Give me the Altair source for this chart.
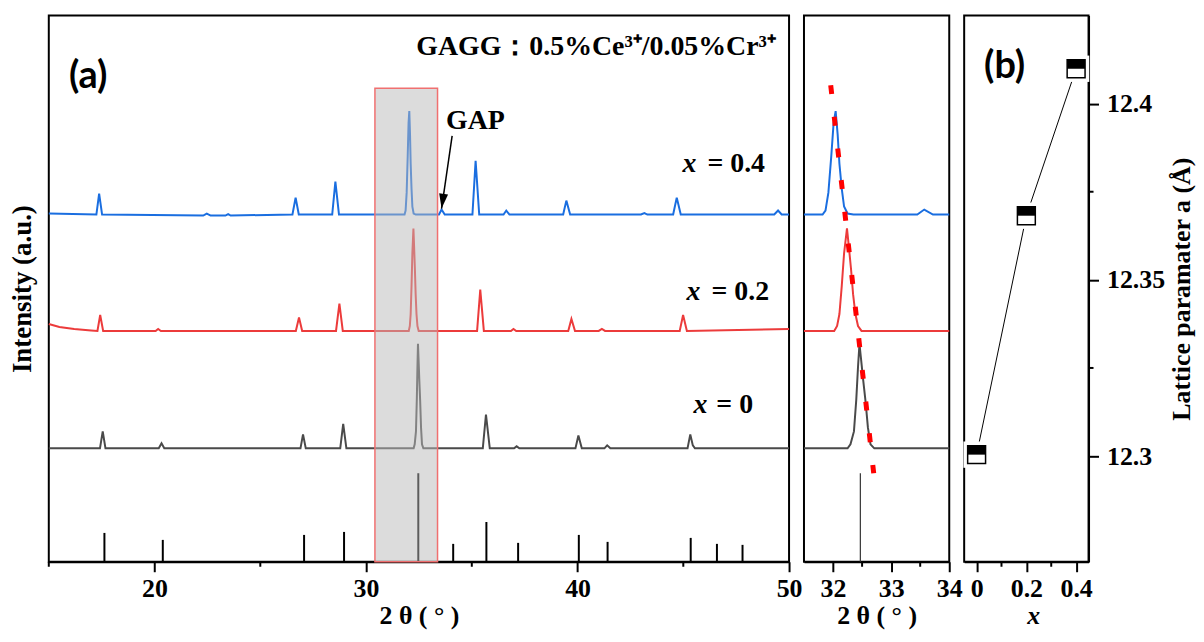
import altair as alt
import pandas as pd

# ---------------- data ----------------
series_names = ["x = 0", "x = 0.2", "x = 0.4"]
series_colors = ["#4a4a4a", "#ec3b3b", "#1a6ee0"]

# x = 0.4 pattern (2theta, intensity a.u.)
tt_x04 = [15.0, 17.25, 17.38, 17.52, 22.3, 22.47, 22.65, 23.35, 23.48, 23.6,
          26.52, 26.67, 26.82, 28.4, 28.55, 28.72,
          31.82, 31.87, 31.92, 31.97, 32.01, 32.045, 32.08, 32.11, 32.15, 32.19, 32.25, 32.35,
          33.45, 33.57, 33.72, 35.03, 35.18, 35.35, 36.5, 36.63, 36.78,
          39.32, 39.47, 39.65, 43.0, 43.16, 43.3, 44.52, 44.69, 44.88,
          49.3, 49.48, 49.65, 50.0]
in_x04 = [350, 349, 370, 349, 348, 350, 348, 348, 349.5, 348,
          349, 366, 349, 349, 382, 349,
          349, 353, 371, 408, 441, 453, 429, 400, 375, 357, 350, 349,
          349, 354, 349, 349, 403, 349, 349, 353, 349,
          349, 363, 349, 349, 350.5, 349, 349, 366, 349,
          349, 353, 349, 349]

# x = 0.2 pattern
tt_x02 = [15.0, 15.5, 16.2, 17.0, 17.3, 17.43, 17.57, 20.05, 20.17, 20.3,
          26.68, 26.83, 26.98, 28.58, 28.74, 28.9,
          32.02, 32.07, 32.11, 32.15, 32.19, 32.24, 32.27, 32.31, 32.345, 32.385, 32.43, 32.49,
          35.25, 35.40, 35.57, 36.85, 36.97, 37.1, 39.56, 39.71, 39.88,
          41.0, 41.15, 41.3, 44.83, 44.99, 45.17, 50.0]
in_x02 = [239, 236, 234, 232.5, 232, 248, 232, 232, 234, 232,
          232, 245.5, 232, 232, 259.5, 232,
          232, 237, 249, 277, 310, 335, 318, 294, 269, 249, 237, 232,
          232, 273.5, 232, 232, 234, 232, 232, 244, 232,
          232, 234, 232, 232, 248, 232, 234]

# x = 0 pattern
tt_x00 = [15.0, 17.42, 17.55, 17.68, 20.2, 20.33, 20.46, 26.9, 27.02, 27.15,
          28.78, 28.92, 29.07,
          32.25, 32.30, 32.36, 32.40, 32.43, 32.455, 32.48, 32.52, 32.56, 32.60, 32.645, 32.71,
          35.52, 35.67, 35.85, 37.0, 37.12, 37.25, 39.9, 40.04, 40.2,
          41.27, 41.40, 41.55, 45.2, 45.33, 45.45, 45.55, 50.0]
in_x00 = [114, 114, 131, 114, 114, 119, 114, 114, 128, 114,
          114, 138.6, 114,
          114, 118, 131, 163, 196, 219, 205, 182, 161, 135, 118, 114,
          114, 148, 114, 114, 116, 114, 114, 127, 114,
          114, 117, 114, 114, 128, 117, 114, 114]

# standard reference pattern (stick positions / heights)
ref_2theta = [17.63, 20.39, 27.07, 28.96, 32.47, 34.12, 35.69, 37.19, 40.06, 41.42, 45.35, 46.59, 47.80]
ref_height = [29, 22, 27, 30, 89, 18, 40, 19, 27, 20, 24, 18, 17]

# highlighted region
box_2theta = [30.42, 33.38]
box_top = [476]

# red guide across the main peak
guide_2theta = [31.96, 32.70]
guide_int = [479, 89]

# lattice parameter panel
x_content = [0, 0.2, 0.4]
lattice_a = [12.3004, 12.3682, 12.4099]

# ticks
xa_major = [20, 30, 40, 50]
xa_minor = [15, 25, 35, 45]
xz_major = [32, 33, 34]
xz_minor = [32.5, 33.5]
xb_major = [0, 0.2, 0.4]
xb_minor = [0.1, 0.3]
yb_major = [12.3, 12.35, 12.4]
yb_minor = [12.325, 12.375]

# series labels
label_x_pos = [44.96, 45.15, 45.48]
label_eq_pos = [46.14, 46.33, 46.56]
label_int = [391.6, 263.3, 150]
label_eq_text = ["= 0.4", "= 0.2", "= 0"]

# ---------------- build tables ----------------
rows = []
for name, tt, ii in [("x = 0", tt_x00, in_x00), ("x = 0.2", tt_x02, in_x02), ("x = 0.4", tt_x04, in_x04)]:
    for k, (a, b) in enumerate(zip(tt, ii)):
        rows.append({"s": name, "t": a, "i": b, "k": k})
curves = pd.DataFrame(rows)
sticks = pd.DataFrame({"t": ref_2theta, "i": [0] * len(ref_2theta), "i2": ref_height})

SERIF = "Liberation Serif"
FS = 26
W_A, W_Z, W_B, H = 744, 146, 125, 549

axis_common = dict(
    labelFont=SERIF, labelFontSize=FS, labelFontWeight="bold", labelColor="black",
    titleFont=SERIF, titleFontSize=26, titleFontWeight="bold", titleColor="black",
    domainColor="black", domainWidth=2, tickColor="black", tickWidth=2, tickSize=10,
    grid=False, labelFlush=False, labelPadding=4, titlePadding=1,
)

color_enc = alt.Color("s:N", scale=alt.Scale(domain=series_names, range=series_colors), legend=None)

# ---------- panel (a) ----------
xA = alt.X("t:Q", scale=alt.Scale(domain=[15, 50], nice=False, zero=False),
           axis=alt.Axis(values=xa_major, format="d", title="2 θ ( ° )", **axis_common))
yA = alt.Y("i:Q", scale=alt.Scale(domain=[0, H], nice=False, zero=False),
           axis=alt.Axis(title="Intensity (a.u.)", labels=False, ticks=False, domain=False,
                         grid=False, titleFont=SERIF, titleFontSize=27, titleFontWeight="bold",
                         titleColor="black", titlePadding=12))

a_lines = alt.Chart(curves).mark_line(strokeWidth=2).encode(x=xA, y=yA, color=color_enc, order="k:Q", detail="s:N")
a_sticks = alt.Chart(sticks).mark_rule(color="black", strokeWidth=2).encode(x=xA, y=yA, y2="i2:Q")
box = pd.DataFrame({"t": [box_2theta[0]], "t2": [box_2theta[1]], "i": [0], "i2": box_top})
a_box = alt.Chart(box).mark_rect(fill="#b9b9b9", fillOpacity=0.5, stroke="#f07070", strokeWidth=1.5).encode(
    x=xA, x2="t2:Q", y=yA, y2="i2:Q")
a_minor = alt.Chart(pd.DataFrame({"t": xa_minor})).mark_rule(color="black", strokeWidth=2).encode(
    x=xA, y=alt.value(H), y2=alt.value(H + 5))

a_gap = alt.Chart(pd.DataFrame({"t": [35.17], "i": [435], "label": ["GAP"]})).mark_text(
    font=SERIF, fontSize=28, fontWeight="bold", align="center", baseline="alphabetic", color="black").encode(
    x=xA, y=yA, text="label:N")
a_title = alt.Chart(pd.DataFrame({"t": [49.38], "i": [509], "label": ["GAGG：0.5%Ce³⁺/0.05%Cr³⁺"]})).mark_text(
    font=SERIF, fontSize=28, fontWeight="bold", align="right", baseline="alphabetic", color="black").encode(
    x=xA, y=yA, text="label:N")
a_eq = alt.Chart(pd.DataFrame({"t": label_eq_pos, "i": label_int, "label": label_eq_text})).mark_text(
    font=SERIF, fontSize=28, fontWeight="bold", align="left", baseline="alphabetic", color="black").encode(
    x=xA, y=yA, text="label:N")
a_xs = alt.Chart(pd.DataFrame({"t": label_x_pos, "i": label_int, "label": ["x", "x", "x"]})).mark_text(
    font=SERIF, fontSize=28, fontWeight="bold", fontStyle="italic", align="left",
    baseline="alphabetic", color="black").encode(x=xA, y=yA, text="label:N")
a_panel_lbl = alt.Chart(pd.DataFrame({"t": [15.95], "i": [476], "label": ["(a)"]})).mark_text(
    font="Lato", fontSize=38, fontWeight="bold", align="left", baseline="alphabetic", color="black").encode(
    x=xA, y=yA, text="label:N")
arrow = pd.DataFrame({"t": [34.07], "i": [428], "t2": [33.57], "i2": [355]})
a_arrow = alt.Chart(arrow).mark_rule(color="black", strokeWidth=1.5).encode(x=xA, y=yA, x2="t2:Q", y2="i2:Q")
a_head = alt.Chart(pd.DataFrame({"t": [33.57], "i": [355]})).mark_point(
    shape="M0,0L-0.3,-1L0.3,-1Z", size=900, filled=True, color="black", opacity=1, angle=8).encode(x=xA, y=yA)

panel_a = alt.layer(a_sticks, a_lines, a_box, a_minor, a_arrow, a_head,
                    a_gap, a_title, a_eq, a_xs, a_panel_lbl).properties(width=W_A, height=H)

# ---------- zoom panel ----------
curves_z = curves.rename(columns={"t": "tz", "i": "iz"})
xZ = alt.X("tz:Q", scale=alt.Scale(domain=[31.5, 34], nice=False, zero=False),
           axis=alt.Axis(values=xz_major, format="d", title="2 θ ( ° )", **axis_common))
yZ = alt.Y("iz:Q", scale=alt.Scale(domain=[0, H], nice=False, zero=False), axis=None)
z_lines = alt.Chart(curves_z).mark_line(strokeWidth=2, clip=True).encode(x=xZ, y=yZ, color=color_enc, order="k:Q", detail="s:N")
stick_main = pd.DataFrame({"tz": [ref_2theta[4]], "iz": [0], "iz2": [ref_height[4]]})
z_stick = alt.Chart(stick_main).mark_rule(color="#333333", strokeWidth=1.2).encode(x=xZ, y=yZ, y2="iz2:Q")
guide = pd.DataFrame({"tz": guide_2theta, "iz": guide_int})
z_guide = alt.Chart(guide).mark_line(color="#ff0000", strokeWidth=5, strokeDash=[9, 23]).encode(x=xZ, y=yZ)
z_minor = alt.Chart(pd.DataFrame({"tz": xz_minor})).mark_rule(color="black", strokeWidth=2).encode(
    x=xZ, y=alt.value(H), y2=alt.value(H + 5))
panel_z = alt.layer(z_lines, z_stick, z_guide, z_minor).properties(width=W_Z, height=H)

# ---------- panel (b) ----------
lat = pd.DataFrame({"xb": x_content, "ab": lattice_a})
xB = alt.X("xb:Q", scale=alt.Scale(domain=[-0.05, 0.45], nice=False, zero=False),
           axis=alt.Axis(values=xb_major, format="~g", title="x", titleFontStyle="italic",
                         titleX=W_B / 2 + 7, **axis_common))
yB = alt.Y("ab:Q", scale=alt.Scale(domain=[12.27, 12.425], nice=False, zero=False),
           axis=alt.Axis(values=yb_major, format="~g", orient="right", title="Lattice paramater a (Å)",
                         titleAngle=270, titleBaseline="top",
                         **{**axis_common, "labelFontSize": 26, "titleFontSize": 26,
                            "labelPadding": 8, "titlePadding": 4}))
b_line = alt.Chart(lat).mark_line(color="black", strokeWidth=1).encode(x=xB, y=yB)
b_mask = alt.Chart(lat).mark_square(size=700, color="white", opacity=1).encode(x=xB, y=yB)
b_sq = alt.Chart(lat).mark_square(size=324, fill="white", stroke="black", strokeWidth=1.5, opacity=1).encode(x=xB, y=yB)
b_half = alt.Chart(lat).mark_point(shape="M-1,-1L1,-1L1,0L-1,0Z", size=324, filled=True, color="black",
                                   opacity=1).encode(x=xB, y=yB)
b_minor_x = alt.Chart(pd.DataFrame({"xb": xb_minor})).mark_rule(color="black", strokeWidth=2).encode(
    x=xB, y=alt.value(H), y2=alt.value(H + 5))
b_minor_y = alt.Chart(pd.DataFrame({"ab": yb_minor})).mark_rule(color="black", strokeWidth=2).encode(
    y=yB, x=alt.value(W_B), x2=alt.value(W_B + 5))
b_lbl = alt.Chart(pd.DataFrame({"xb": [0.03], "ab": [12.4072], "label": ["(b)"]})).mark_text(
    font="Lato", fontSize=38, fontWeight="bold", align="left", baseline="alphabetic", color="black").encode(
    x=xB, y=yB, text="label:N")
panel_b = alt.layer(b_line, b_mask, b_sq, b_half, b_minor_x, b_minor_y, b_lbl).properties(width=W_B, height=H)

chart = alt.hconcat(panel_a, panel_z, panel_b, spacing=15, bounds="flush").resolve_scale(
    x="independent", y="independent").configure_view(stroke="black", strokeWidth=2).properties(
    padding={"left": 0, "top": 5, "right": 0, "bottom": 0}, background="white")

chart.save("out.html", embed_options={"renderer": "svg", "actions": False})
